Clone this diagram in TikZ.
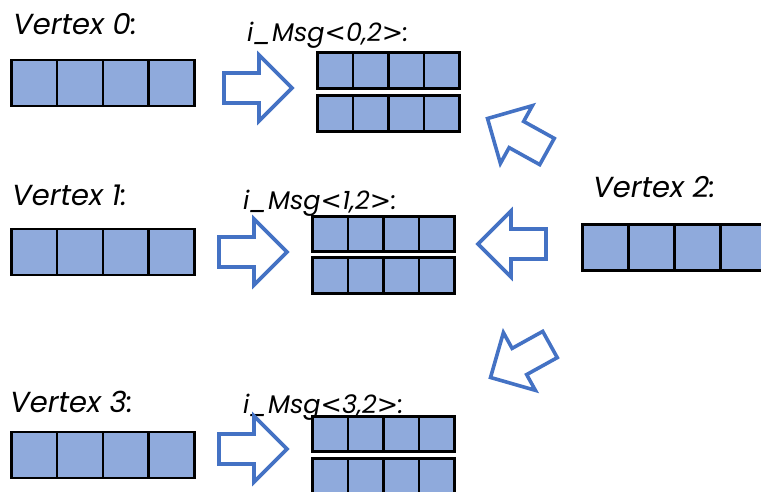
\documentclass[tikz,border=0pt]{standalone}
\usepackage{fontspec}
\setmainfont{Poppins}
\newfontfamily\symf{DejaVu Sans}
\definecolor{cellfill}{HTML}{8FAADC}
\definecolor{arrowblue}{HTML}{4472C4}
\newcommand{\lt}{{\symf\itshape <}}
\newcommand{\gt}{{\symf\itshape >}}
\begin{document}
\begin{tikzpicture}[x=1pt,y=-1pt,
  bigcell/.style={draw=black,line width=2.6pt,fill=cellfill,minimum width=45.75pt,minimum height=46pt,inner sep=0pt,anchor=west},
  smallcell/.style={draw=black,line width=2.6pt,fill=cellfill,minimum width=35.5pt,minimum height=35.5pt,inner sep=0pt,anchor=west},
  fatarrow/.style={draw=arrowblue,line width=3.6pt,fill=white,line join=miter},
  vlabel/.style={anchor=base west,inner sep=0pt,font=\fontsize{29}{34}\selectfont\itshape},
  mlabel/.style={anchor=base west,inner sep=0pt,font=\fontsize{25.5}{30}\selectfont\itshape},
  blockarrow/.pic={
    \draw[fatarrow] (0,-15) -- (35,-15) -- (35,-33) -- (68,0) -- (35,33) -- (35,15) -- (0,15) -- cycle;
    \coordinate (-tip) at (68,0);
  }]
\useasboundingbox (0,0) rectangle (761,492);
% labels
\node[vlabel] (l0) at (13,35) {Vertex 0:};
\node[vlabel] (l1) at (12,205) {Vertex 1:};
\node[vlabel] (l2) at (593,198) {Vertex 2:};
\node[vlabel] (l3) at (10,412) {Vertex 3:};
\node[mlabel] (m0l) at (247,42) {i\_Msg\lt0,2\gt:};
\node[mlabel] (m1l) at (243,210) {i\_Msg\lt1,2\gt:};
\node[mlabel] (m3l) at (243,413) {i\_Msg\lt3,2\gt:};
% vertex arrays
\foreach \i in {0,1,2,3}{
  \node[bigcell] (v0-\i) at (10+\i*45.75,83) {};
  \node[bigcell] (v1-\i) at (10+\i*45.75,252) {};
  \node[bigcell] (v3-\i) at (10+\i*45.75,455) {};
  \node[bigcell] (v2-\i) at (581+\i*46,247.5) {};
}
% message arrays
\foreach \i in {0,1,2,3}{
  \node[smallcell] (m0a-\i) at (316+\i*35.5,70.5) {};
  \node[smallcell] (m0b-\i) at (316+\i*35.5,113.5) {};
  \node[smallcell] (m1a-\i) at (311+\i*35.5,234) {};
  \node[smallcell] (m1b-\i) at (311+\i*35.5,275.5) {};
  \node[smallcell] (m3a-\i) at (311+\i*35.5,434) {};
  \node[smallcell] (m3b-\i) at (311+\i*35.5,476) {};
}
% block arrows (tail centre, direction)
\pic (a0) at (224,88) {blockarrow};
\pic (a1) at (219,252) {blockarrow};
\pic (a3) at (219,449) {blockarrow};
\pic[rotate=180] (b1) at (546,244) {blockarrow};
\pic[rotate=151] (b0) at (547,151.5) {blockarrow};
\pic[rotate=-151] (b3) at (550,344.5) {blockarrow};
\end{tikzpicture}
\end{document}
